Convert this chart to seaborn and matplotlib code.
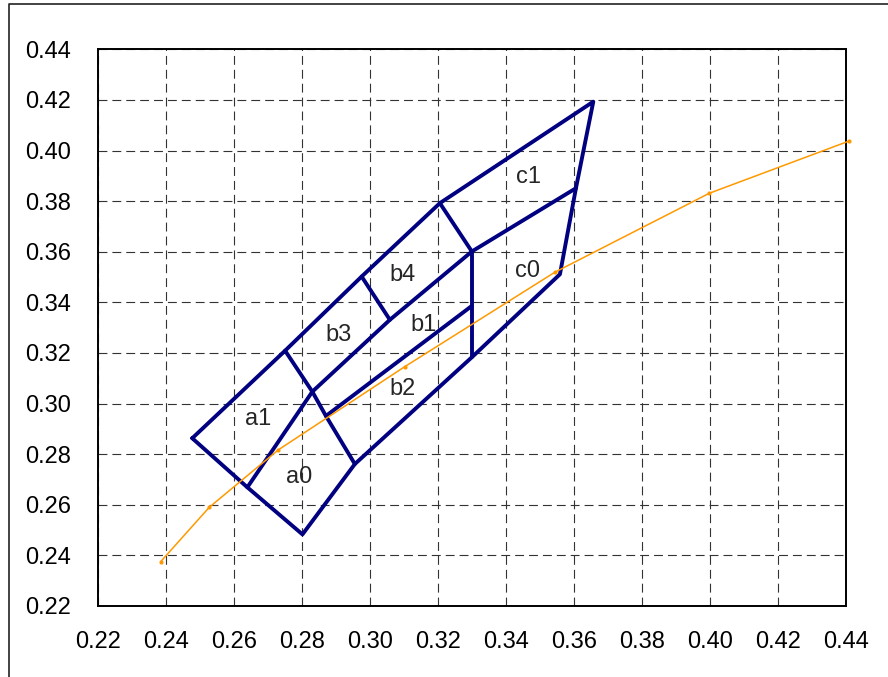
import pandas as pd
import seaborn as sns
import matplotlib.pyplot as plt
from matplotlib.lines import Line2D

# blue mesh: outer boundary and inner edges
outer_x = [0.2478, 0.2751, 0.2976, 0.3206, 0.3657, 0.3606, 0.3559, 0.3300, 0.2956, 0.2802, 0.2640, 0.2478]
outer_y = [0.2863, 0.3209, 0.3502, 0.3792, 0.4193, 0.3851, 0.3511, 0.3183, 0.2761, 0.2483, 0.2669, 0.2863]

ab_x = [0.2751, 0.2831, 0.2871, 0.2956]
ab_y = [0.3209, 0.3047, 0.2951, 0.2761]
a01_x = [0.2640, 0.2831]
a01_y = [0.2669, 0.3047]
b31_x = [0.2831, 0.3059, 0.3300]
b31_y = [0.3047, 0.3331, 0.3601]
b34_x = [0.2976, 0.3059]
b34_y = [0.3502, 0.3331]
cb_x = [0.3206, 0.3300]
cb_y = [0.3792, 0.3601]
c01_x = [0.3300, 0.3606]
c01_y = [0.3601, 0.3851]
vert_x = [0.3300, 0.3300]
vert_y = [0.3601, 0.3183]
b12_x = [0.2871, 0.3300]
b12_y = [0.2951, 0.3386]

# orange curve
curve_x = [0.2385, 0.2528, 0.2731, 0.3103, 0.3544, 0.3998, 0.4410]
curve_y = [0.2375, 0.2590, 0.2817, 0.3146, 0.3519, 0.3831, 0.4038]

# region labels
lab_txt = ["a1", "a0", "b3", "b4", "b1", "b2", "c1", "c0"]
lab_x = [0.2671, 0.2792, 0.2909, 0.3095, 0.3157, 0.3095, 0.3468, 0.3465]
lab_y = [0.2939, 0.2710, 0.3271, 0.3508, 0.3311, 0.3058, 0.3896, 0.3524]

ticks = [0.22, 0.24, 0.26, 0.28, 0.30, 0.32, 0.34, 0.36, 0.38, 0.40, 0.42, 0.44]

segs = {"outer": (outer_x, outer_y), "ab": (ab_x, ab_y), "a01": (a01_x, a01_y),
        "b31": (b31_x, b31_y), "b34": (b34_x, b34_y), "cb": (cb_x, cb_y),
        "c01": (c01_x, c01_y), "vert": (vert_x, vert_y), "b12": (b12_x, b12_y)}
rows = []
for name, (xs, ys) in segs.items():
    for i in range(len(xs)):
        rows.append({"seg": name, "order": i, "x": xs[i], "y": ys[i]})
df_mesh = pd.DataFrame(rows)
df_curve = pd.DataFrame({"x": curve_x, "y": curve_y})

sns.set_style("white")
plt.rcParams['font.family'] = ['Liberation Sans', 'DejaVu Sans']

fig = plt.figure(figsize=(8.88, 6.77), dpi=100)
ax = fig.add_axes([97.7 / 888, 71 / 677, (846 - 97.7) / 888, (606 - 49.3) / 677])

sns.lineplot(data=df_mesh, x="x", y="y", units="seg", estimator=None, sort=False,
             color="#000080", lw=2.8, ax=ax, zorder=3)
sns.lineplot(data=df_curve, x="x", y="y", sort=False, estimator=None, color="#FF9900",
             lw=1.1, marker="o", markersize=3, markeredgewidth=0, ax=ax, zorder=4, clip_on=False)

for t, x, y in zip(lab_txt, lab_x, lab_y):
    ax.text(x, y, t, fontsize=17, ha="center", va="center", zorder=5)

ax.set_xlim(0.22, 0.44)
ax.set_ylim(0.22, 0.44)
ax.set_xticks(ticks)
ax.set_yticks(ticks)
ax.set_xticklabels([f"{t:.2f}" for t in ticks])
ax.set_yticklabels([f"{t:.2f}" for t in ticks])
ax.tick_params(axis="both", length=0, labelsize=17, colors="black")
ax.tick_params(axis="x", pad=18)
ax.tick_params(axis="y", pad=19)
ax.set_xlabel("")
ax.set_ylabel("")
ax.grid(True, color="#333333", lw=0.8, linestyle=(0, (8, 4.5)))
ax.set_axisbelow(True)
for s in ax.spines.values():
    s.set_color("black")
    s.set_linewidth(1.4)

# outer frame of the chart area (cut off on right and bottom)
fig.add_artist(Line2D([9 / 888, 9 / 888, 1.0], [0.0, 1 - 4 / 677, 1 - 4 / 677],
                      transform=fig.transFigure, color="#222222", lw=1.2))

fig.savefig("out.png", dpi=100)
